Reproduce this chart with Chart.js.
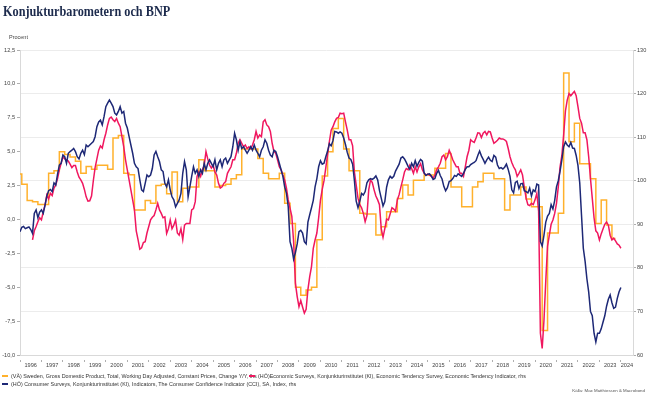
<!DOCTYPE html>
<html>
<head>
<meta charset="utf-8">
<script src="https://cdn.jsdelivr.net/npm/chart.js@4.4.1/dist/chart.umd.min.js"></script>
<style>
  html, body { margin: 0; padding: 0; background: #ffffff; }
  #wrap { position: relative; width: 649px; height: 398px; overflow: hidden; font-family: "Liberation Sans", Arial, sans-serif; }
  #chart { position: absolute; left: 0; top: 0; }
  #title { position: absolute; left: 3px; top: 3px; font-family: "Liberation Serif", serif; font-size: 14.5px; font-weight: bold; color: #1c2a4c; white-space: nowrap; transform: scaleX(0.845); transform-origin: 0 0; }
  #unit { position: absolute; left: 9px; top: 34px; font-size: 5.5px; color: #444; }
  .leg { position: absolute; font-size: 5.4px; color: #333; white-space: nowrap; line-height: 6px; }
  .leg i { display: inline-block; width: 6px; height: 1.6px; vertical-align: middle; margin-right: 3px; position: relative; top: -0.5px; }
  #source { position: absolute; right: 4px; top: 388px; font-size: 4.4px; color: #555; white-space: nowrap; }
</style>
</head>
<body>
<div id="wrap">
  <canvas id="chart" width="649" height="398"></canvas>
  <div id="title">Konjukturbarometern och BNP</div>
  <div id="unit">Procent</div>
  <div class="leg" style="left:2px; top:373px;"><i style="background:#ffb12c"></i>(VÄ) Sweden, Gross Domestic Product, Total, Working Day Adjusted, Constant Prices, Change Y/Y, lhs</div>
  <div class="leg" style="left:249px; top:373px;"><i style="background:#f0175f"></i>(HÖ)Economic Surveys, Konjunkturinstitutet (KI), Economic Tendency Survey, Economic Tendency Indicator, rhs</div>
  <div class="leg" style="left:2px; top:381px;"><i style="background:#1d2876"></i>(HÖ) Consumer Surveys, Konjunkturinstitutet (KI), Indicators, The Consumer Confidence Indicator (CCI), SA, Index, rhs</div>
  <div id="source">Källa: Max Matthiessen &amp; Macrobond</div>
</div>
<script>
// ---------- data ----------
const yearTicks = [1996,1997,1998,1999,2000,2001,2002,2003,2004,2005,2006,2007,2008,2009,2010,2011,2012,2013,2014,2015,2016,2017,2018,2019,2020,2021,2022,2023,2024];

// GDP y/y, quarterly, first value = Q4 1995
const gdpStart = [1995, 4];
const gdpValues = [
  3.35,
  2.6, 1.4, 1.3, 1.1,
  1.1, 3.4, 3.6, 5.0,
  4.8, 4.6, 4.3, 3.4,
  3.9, 3.7, 4.0, 4.0,
  3.7, 6.0, 6.2, 3.4,
  3.3, 0.7, 0.7, 1.4,
  1.2, 2.5, 2.6, 1.9,
  3.5, 1.3, 2.3, 2.4,
  2.4, 4.4, 3.6, 3.6,
  2.4, 2.5, 2.6, 3.0,
  3.3, 5.2, 5.2, 5.2,
  4.5, 3.4, 3.0, 3.0,
  3.4, 1.2, -0.3, -5.0,
  -5.6, -5.2, -5.0, -1.5,
  3.2, 5.0, 6.7, 7.45,
  5.2, 3.6, 3.6, 0.45,
  0.4, 0.4, -1.15, -0.54,
  0.57, 0.57, 1.55, 2.54,
  1.8, 2.9, 2.9, 3.27,
  3.27, 3.77, 3.77, 4.87,
  2.4, 2.4, 0.94, 0.94,
  2.4, 2.78, 3.4, 3.4,
  3.0, 3.0, 0.7, 1.8,
  1.8, 2.4, 1.5, 0.94,
  0.94, -8.2, -1.0, -1.0,
  0.45, 10.8, 5.73, 7.1,
  4.1, 4.1, 3.0, -0.3,
  1.43, -0.41, -1.4
];

// Economic Tendency Indicator, monthly, first value = Aug 1996
const etiStart = [1996, 8];
const etiValues = [
  86.4, 88.5, 89.5, 90.6, 91.5,
  91.0, 92.9, 94.4, 96.7, 95.8, 97.1, 96.6, 98.3, 99.0, 100.5, 102.5, 104.0,
  105.5, 105.0, 104.8, 104.5, 103.8, 103.0, 103.5, 103.5, 102.0, 100.8, 100.2, 99.4,
  98.0, 96.3, 95.3, 95.4, 96.5, 100.0, 103.0, 105.0, 107.0, 108.0, 107.5, 109.4,
  110.9, 112.8, 114.3, 114.6, 114.0, 113.6, 114.3, 113.2, 112.4, 110.1, 107.8, 104.8,
  102.5, 100.2, 97.9, 95.6, 93.3, 88.5, 86.5, 84.3, 84.6, 85.8, 86.0, 88.0,
  89.5, 91.0, 91.6, 92.0, 93.3, 94.8, 93.3, 92.5, 91.5, 91.7, 87.9, 89.0,
  91.0, 89.0, 89.8, 91.0, 88.0, 87.5, 89.0, 86.5, 89.8, 90.2, 90.2, 90.2,
  93.3, 93.6, 95.2, 101.0, 102.0, 101.0, 102.5, 103.5, 106.7, 105.0, 103.6, 102.9,
  103.6, 102.0, 101.3, 99.4, 98.3, 98.6, 99.4, 99.8, 101.7, 102.5, 103.2, 104.8,
  104.8, 106.3, 108.6, 109.4, 108.6, 107.8, 108.2, 107.4, 107.8, 107.4, 108.2, 109.4,
  111.3, 109.8, 110.5, 110.1, 113.5, 114.0, 112.8, 112.4, 111.3, 108.6, 106.7, 106.3,
  104.8, 103.2, 102.5, 101.3, 100.2, 98.3, 95.6, 93.7, 91.8, 86.0, 76.5, 73.4,
  71.1, 72.5, 71.0, 69.6, 70.5, 75.0, 78.0, 80.3, 84.5, 86.4, 88.0, 91.5,
  95.5, 98.0, 100.0, 103.0, 106.0, 109.0, 111.6, 112.4, 113.5, 114.3, 114.5, 115.5,
  115.4, 115.5, 113.5, 111.6, 109.4, 109.4, 108.0, 102.0, 99.0, 96.0, 94.5, 93.8,
  92.5, 90.6, 92.0, 97.9, 100.2, 99.6, 97.9, 96.5, 95.6, 94.5, 89.0, 87.0,
  89.0, 91.2, 91.0, 92.4, 93.8, 93.5, 93.0, 95.6, 96.8, 98.6, 100.2, 102.0,
  102.8, 102.5, 103.6, 102.8, 101.7, 103.2, 102.0, 103.2, 103.9, 102.5, 101.7, 101.3,
  101.5, 101.3, 101.0, 100.6, 101.3, 102.5, 103.2, 104.0, 105.5, 105.9, 104.8, 105.5,
  107.0, 106.0, 104.8, 104.0, 103.2, 103.2, 101.7, 101.7, 101.0, 103.2, 105.5, 107.0,
  109.4, 109.0, 108.8, 109.8, 111.0, 110.9, 109.9, 110.9, 111.3, 110.5, 111.3, 111.2,
  109.8, 108.6, 108.9, 109.3, 109.8, 109.6, 109.6, 109.4, 109.0, 107.4, 105.5, 104.2,
  103.2, 102.5, 101.0, 101.7, 102.5, 101.3, 98.5, 96.0, 94.5, 94.3, 94.8, 94.5,
  95.6, 97.1, 93.0, 65.0, 61.5, 68.0, 77.0, 85.0, 87.5, 90.0, 91.0, 92.5,
  94.8, 98.6, 103.2, 105.8, 110.5, 116.0, 118.5, 120.0, 119.5, 120.0, 120.5, 119.5,
  117.0, 114.3, 113.2, 111.0, 111.0, 109.4, 105.5, 100.5, 96.0, 91.5, 88.5, 88.0,
  86.4, 87.8, 88.9, 90.0, 90.5, 89.8, 87.5, 86.4, 86.8, 86.2, 85.5, 85.2,
  84.5
];

// Consumer Confidence Indicator, monthly, first value = Jan 1996
const cciStart = [1996, 1];
const cciValues = [
  88.3, 89.3, 89.5, 89.0, 89.2, 89.4, 88.8, 87.9, 92.5, 93.3, 91.5, 92.8,
  93.3, 92.5, 94.4, 96.5, 97.7, 98.0, 97.5, 99.5, 99.0, 101.5, 103.6, 104.0,
  105.9, 105.5, 104.0, 106.3, 106.7, 107.0, 107.4, 106.7, 105.5, 105.0, 106.3, 107.0,
  106.0, 108.2, 107.8, 108.2, 108.6, 109.0, 110.1, 112.4, 113.5, 113.9, 112.8, 114.7,
  117.0, 117.8, 118.5, 117.8, 117.0, 115.5, 115.1, 115.9, 117.0, 115.5, 115.9, 113.2,
  112.1, 110.1, 108.2, 106.3, 104.0, 103.2, 102.8, 100.2, 97.9, 97.5, 99.4, 101.3,
  100.9, 101.3, 102.8, 105.9, 106.7, 105.5, 104.4, 102.5, 102.1, 99.4, 98.6, 100.2,
  97.9, 96.3, 95.6, 94.0, 94.8, 95.6, 97.1, 101.7, 104.4, 102.5, 96.3, 98.6,
  101.0, 103.2, 101.7, 102.5, 101.0, 102.5, 101.7, 104.0, 102.5, 104.0, 104.8, 104.0,
  103.2, 104.8, 102.5, 104.0, 104.8, 103.2, 104.8, 105.2, 104.0, 104.8, 105.5, 107.8,
  110.9, 109.4, 107.0, 108.9, 107.4, 107.8, 107.0, 106.3, 107.0, 107.8, 107.0, 108.2,
  107.0, 106.3, 105.5, 107.0, 107.8, 109.4, 108.6, 107.0, 105.9, 105.5, 107.0, 106.7,
  105.5, 104.0, 102.5, 101.0, 98.6, 97.1, 94.0, 86.0, 84.5, 82.0, 83.5, 85.5,
  88.3, 88.6, 88.0, 86.0, 85.5, 90.5, 92.2, 93.8, 95.5, 98.6, 100.5, 103.2,
  104.6, 103.8, 104.0, 105.5, 106.8, 108.5, 108.0, 109.2, 111.3, 111.2, 110.9, 111.2,
  110.9, 109.8, 108.3, 106.5, 105.2, 104.9, 103.8, 100.0, 95.3, 93.8, 95.3, 97.1,
  96.7, 97.5, 99.5, 100.2, 100.5, 100.3, 100.6, 101.1, 100.2, 97.8, 96.0, 94.2,
  95.2, 98.5, 100.2, 101.0, 100.6, 101.0, 102.2, 103.0, 103.8, 105.2, 105.5, 105.0,
  104.2, 103.3, 102.6, 104.0, 103.2, 104.6, 103.3, 104.2, 104.9, 104.5, 101.8, 101.2,
  101.5, 101.6, 101.1, 100.3, 100.5, 101.7, 102.4, 101.2, 100.4, 98.7, 97.7, 98.4,
  99.8, 100.0, 100.5, 101.2, 101.0, 101.6, 101.3, 101.0, 101.7, 102.6, 103.2, 103.2,
  103.7, 104.0, 104.2, 104.6, 105.8, 106.8, 105.7, 104.9, 104.0, 104.8, 105.4, 104.7,
  104.4, 105.8, 105.4, 103.6, 102.8, 103.0, 102.7, 103.1, 103.8, 102.6, 101.0, 97.9,
  97.2, 99.6, 99.9, 98.2, 99.3, 99.4, 97.7, 97.5, 97.2, 98.3, 96.5, 97.9,
  97.5, 99.2, 99.0, 86.0, 85.0, 87.5, 90.5, 91.9, 92.5, 94.5, 93.5, 95.5,
  98.6, 100.0, 102.2, 104.8, 107.8, 108.9, 108.2, 107.8, 108.8, 107.5, 107.4, 105.8,
  103.5, 99.5, 92.0, 84.5, 81.5, 77.5, 74.5, 70.0, 69.0, 65.0, 63.0, 65.0,
  65.0, 66.0, 67.5, 69.0, 71.2, 72.8, 73.8, 72.0, 70.7, 71.0, 73.0, 74.5,
  75.5
];

// ---------- build points ----------
function monthly(start, values) {
  return values.map((v, i) => ({ x: start[0] + (start[1] - 1 + i) / 12, y: v }));
}
function quarterly(start, values) {
  const pts = values.map((v, k) => ({ x: start[0] + (start[1] - 1 + k) * 0.25 + 1 / 12, y: v }));
  const last = pts[pts.length - 1];
  pts.push({ x: last.x + 2 / 12, y: last.y });
  return pts;
}

const X_MIN = 1996, X_MAX = 2024.565;
const GRID = '#ececec';
const AXIS = '#d9d9d9';
const TICKFONT = { family: 'Liberation Sans, Arial, sans-serif', size: 5.6 };

new Chart(document.getElementById('chart'), {
  type: 'line',
  data: {
    datasets: [
      { label: 'GDP', data: quarterly(gdpStart, gdpValues), yAxisID: 'yL', borderColor: '#ffb12c', borderWidth: 1.5, stepped: 'before', pointRadius: 0, fill: false, order: 2 },
      { label: 'ETI', data: monthly(etiStart, etiValues), yAxisID: 'yR', borderColor: '#f0175f', borderWidth: 1.5, pointRadius: 0, fill: false, tension: 0, order: 1 },
      { label: 'CCI', data: monthly(cciStart, cciValues), yAxisID: 'yR', borderColor: '#1d2876', borderWidth: 1.5, pointRadius: 0, fill: false, tension: 0, order: 0 }
    ]
  },
  options: {
    responsive: false,
    animation: false,
    devicePixelRatio: 1,
    layout: { padding: { left: 0, right: 0, top: 50, bottom: 29 } },
    plugins: { legend: { display: false }, tooltip: { enabled: false }, title: { display: false } },
    scales: {
      x: {
        type: 'linear', position: 'bottom', min: X_MIN, max: X_MAX,
        afterBuildTicks: (scale) => {
          const t = [];
          yearTicks.forEach((yr, i) => {
            const next = i < yearTicks.length - 1 ? yearTicks[i + 1] : scale.max;
            t.push({ value: yr });
            t.push({ value: (yr + next) / 2 });
          });
          scale.ticks = t;
        },
        afterFit: (scale) => { scale.height = 14; },
        ticks: {
          autoSkip: false, maxRotation: 0, minRotation: 0, padding: 0,
          color: '#444', font: TICKFONT,
          callback: (v, i) => (i % 2 === 1 ? String(Math.floor(v)) : '')
        },
        grid: {
          drawOnChartArea: false, drawTicks: true, tickLength: 7,
          tickColor: (ctx) => (ctx.index % 2 === 0 ? '#9a9a9a' : 'rgba(0,0,0,0)'),
          tickBorderDash: [0, 4, 3, 0], tickWidth: 0.8
        },
        border: { display: true, color: AXIS, width: 1 }
      },
      yL: {
        type: 'linear', position: 'left', min: -10, max: 12.5,
        afterFit: (scale) => { scale.width = 20; },
        ticks: { stepSize: 2.5, padding: 2, color: '#444', font: TICKFONT,
          callback: (v) => v.toFixed(1).replace('.', ',') },
        grid: { drawOnChartArea: false, drawTicks: true, tickLength: 3, tickColor: '#9a9a9a', tickWidth: 0.8 },
        border: { display: true, color: AXIS, width: 1 }
      },
      yR: {
        type: 'linear', position: 'right', min: 60, max: 130,
        afterFit: (scale) => { scale.width = 16; },
        ticks: { stepSize: 10, padding: 1, color: '#444', font: TICKFONT },
        grid: { drawOnChartArea: true, color: GRID, lineWidth: 1, drawTicks: true, tickLength: 3, tickColor: '#9a9a9a', tickWidth: 0.8 },
        border: { display: true, color: AXIS, width: 1 }
      }
    }
  }
});
</script>
</body>
</html>
